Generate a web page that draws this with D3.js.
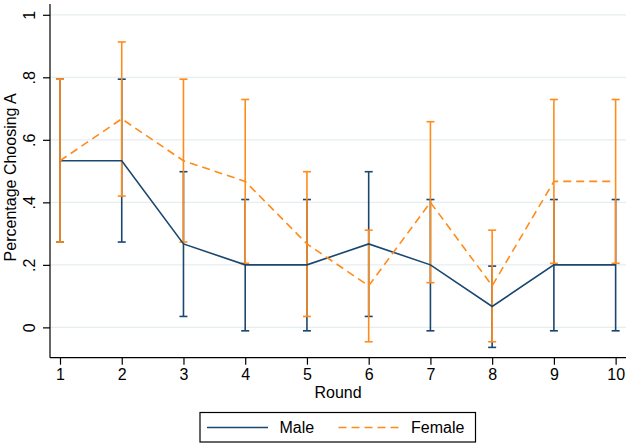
<!DOCTYPE html>
<html><head><meta charset="utf-8">
<script src="https://cdn.jsdelivr.net/npm/d3@7"></script>
<style>body{margin:0;background:#fff;} svg{display:block;font-family:"Liberation Sans",Arial,sans-serif;}</style>
</head><body>
<svg id="c" width="630" height="447"></svg>
<script>
const rounds = [1,2,3,4,5,6,7,8,9,10];
const maleMean  = [0.533,0.533,0.267,0.2,0.2,0.267,0.2,0.067,0.2,0.2];
const maleLo    = [0.273,0.273,0.035,-0.011,-0.011,0.035,-0.011,-0.064,-0.011,-0.011];
const maleHi    = [0.794,0.794,0.498,0.409,0.409,0.498,0.409,0.196,0.409,0.409];
const femMean   = [0.533,0.667,0.533,0.467,0.267,0.133,0.4,0.133,0.467,0.467];
const femLo     = [0.273,0.420,0.273,0.205,0.035,-0.046,0.143,-0.046,0.205,0.205];
const femHi     = [0.794,0.913,0.794,0.729,0.498,0.311,0.658,0.311,0.729,0.729];
const yTicks = [0,0.2,0.4,0.6,0.8,1];
const yTickLabels = ["0",".2",".4",".6",".8","1"];
const seriesNames = ["Male","Female"];

const navy = "#1a476f", orange = "#ff8c1a";
const FS = 16;
const svg = d3.select("#c");
const L=50, R=626, T=4, B=357.7;
const x = d3.scaleLinear().domain([0.838,10.168]).range([L,R]);
const y = d3.scaleLinear().domain([-0.097,1.0345]).range([B,T]);

// grid
svg.append("g").selectAll("line").data(yTicks).join("line")
  .attr("x1",L).attr("x2",R).attr("y1",d=>y(d)).attr("y2",d=>y(d))
  .attr("stroke","#e6eef0").attr("stroke-width",1.2);

// axes
const yAxis = d3.axisLeft(y).tickValues(yTicks).tickFormat((d,i)=>yTickLabels[i]).tickSize(7).tickSizeOuter(0);
const gy = svg.append("g").attr("transform",`translate(${L},0)`).call(yAxis);
gy.select(".domain").attr("d",`M0,${T}V${B}`).attr("stroke","#000").attr("stroke-width",1.2);
gy.selectAll(".tick line").attr("stroke","#000").attr("stroke-width",1.2);
gy.selectAll(".tick text").attr("font-size",FS).attr("fill","#000")
  .attr("transform","translate(-15,0) rotate(-90)")
  .attr("x",0).attr("y",0).attr("dy",null).attr("text-anchor","middle");

const xAxis = d3.axisBottom(x).tickValues(rounds).tickFormat(d3.format("d")).tickSize(7).tickSizeOuter(0);
const gx = svg.append("g").attr("transform",`translate(0,${B})`).call(xAxis);
gx.select(".domain").attr("d",`M${L},0H${R}`).attr("stroke","#000").attr("stroke-width",1.2);
gx.selectAll(".tick line").attr("stroke","#000").attr("stroke-width",1.2);
gx.selectAll(".tick text").attr("font-size",FS).attr("fill","#000").attr("y",11).attr("dy","0.71em");

// axis titles
svg.append("text").attr("x",338).attr("y",398).attr("text-anchor","middle").attr("font-size",FS).text("Round");
svg.append("text").attr("transform",`translate(16,${y(0.48)}) rotate(-90)`).attr("text-anchor","middle").attr("font-size",FS).text("Percentage Choosing A");

function caps(lo,hi,color){
  const g = svg.append("g").attr("stroke",color).attr("stroke-width",1.6).attr("fill","none");
  rounds.forEach((r,i)=>{
    const cx = x(r);
    g.append("line").attr("x1",cx).attr("x2",cx).attr("y1",y(lo[i])).attr("y2",y(hi[i]));
    g.append("line").attr("x1",cx-4).attr("x2",cx+4).attr("y1",y(lo[i])).attr("y2",y(lo[i]));
    g.append("line").attr("x1",cx-4).attr("x2",cx+4).attr("y1",y(hi[i])).attr("y2",y(hi[i]));
  });
}
caps(maleLo,maleHi,navy);
caps(femLo,femHi,orange);

const line = d3.line().x((d,i)=>x(rounds[i])).y(d=>y(d));
svg.append("path").datum(maleMean).attr("d",line).attr("fill","none").attr("stroke",navy).attr("stroke-width",1.6);
svg.append("path").datum(femMean).attr("d",line).attr("fill","none").attr("stroke",orange).attr("stroke-width",1.6).attr("stroke-dasharray","8,5");

// legend
const lg = svg.append("g");
lg.append("rect").attr("x",200).attr("y",412.5).attr("width",275.5).attr("height",29.5).attr("fill","#fff").attr("stroke","#000").attr("stroke-width",1.2);
lg.append("line").attr("x1",207).attr("x2",268).attr("y1",427.5).attr("y2",427.5).attr("stroke",navy).attr("stroke-width",1.6);
lg.append("text").attr("x",279.5).attr("y",433).attr("font-size",FS).text(seriesNames[0]);
lg.append("line").attr("x1",338.5).attr("x2",400).attr("y1",427.5).attr("y2",427.5).attr("stroke",orange).attr("stroke-width",1.6).attr("stroke-dasharray","8,5");
lg.append("text").attr("x",411).attr("y",433).attr("font-size",FS).text(seriesNames[1]);
</script>
</body></html>
